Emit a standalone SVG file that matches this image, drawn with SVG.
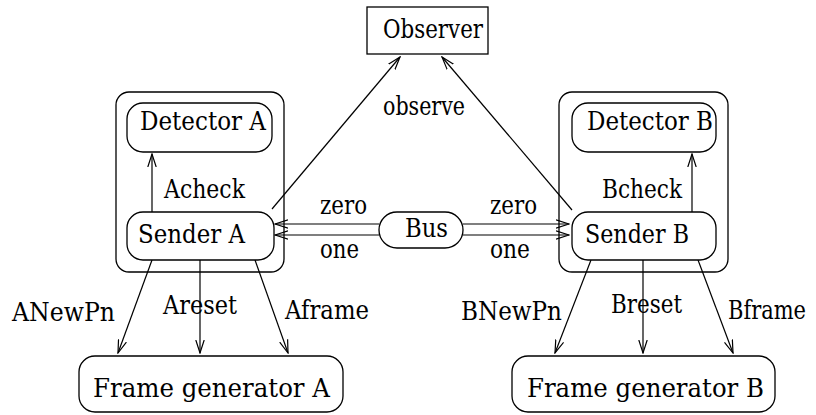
<svg xmlns="http://www.w3.org/2000/svg" width="816" height="415" viewBox="0 0 816 415">
<style>
.box{fill:#fff;stroke:#000;stroke-width:1.3}
.frame{fill:none;stroke:#000;stroke-width:1.3}
.ln{fill:none;stroke:#000;stroke-width:1.2;marker-end:url(#ah)}
.t{font-size:26px;fill:#000}
</style>
<defs>
<marker id="ah" viewBox="-13 -5 14 10" refX="0" refY="0" markerWidth="14" markerHeight="10" orient="auto" markerUnits="userSpaceOnUse">
<path d="M-13,-4.2 L0,0 L-13,4.2" fill="none" stroke="#000" stroke-width="1.2"/>
</marker>
</defs>
<g id="groupA"><rect class="frame" x="116" y="92" width="168" height="180" rx="13"/></g>
<g id="groupB"><rect class="frame" x="559" y="92" width="169" height="180" rx="13"/></g>
<g id="connectors" font-family="DejaVu Serif, serif">
<path class="ln" d="M272,209 L400,57"/>
<path class="ln" d="M572,210 L442,57"/>
<path class="ln" d="M152,212 L152,154"/>
<path class="ln" d="M692,212 L692,154"/>
<path class="ln" d="M379,224 L275,224"/>
<path class="ln" d="M379,235 L275,235"/>
<path class="ln" d="M463,224 L569,224"/>
<path class="ln" d="M463,235 L569,235"/>
<path class="ln" d="M152,260 L118,353"/>
<path class="ln" d="M200,260 L200,353"/>
<path class="ln" d="M255,260 L288,353"/>
<path class="ln" d="M591,260 L555,353"/>
<path class="ln" d="M643,260 L643,353"/>
<path class="ln" d="M698,260 L733,353"/>
<text class="t" x="383" y="115" textLength="82" lengthAdjust="spacingAndGlyphs">observe</text>
<text class="t" x="164" y="198" textLength="81" lengthAdjust="spacingAndGlyphs">Acheck</text>
<text class="t" x="602" y="198" textLength="80" lengthAdjust="spacingAndGlyphs">Bcheck</text>
<text class="t" x="320" y="214" textLength="47" lengthAdjust="spacingAndGlyphs">zero</text>
<text class="t" x="320" y="258" textLength="39" lengthAdjust="spacingAndGlyphs">one</text>
<text class="t" x="490" y="214" textLength="47" lengthAdjust="spacingAndGlyphs">zero</text>
<text class="t" x="490" y="258" textLength="40" lengthAdjust="spacingAndGlyphs">one</text>
<text class="t" x="12" y="321" textLength="103" lengthAdjust="spacingAndGlyphs">ANewPn</text>
<text class="t" x="163" y="314" textLength="74" lengthAdjust="spacingAndGlyphs">Areset</text>
<text class="t" x="285" y="319" textLength="84" lengthAdjust="spacingAndGlyphs">Aframe</text>
<text class="t" x="461" y="320" textLength="101" lengthAdjust="spacingAndGlyphs">BNewPn</text>
<text class="t" x="611" y="313" textLength="71" lengthAdjust="spacingAndGlyphs">Breset</text>
<text class="t" x="728" y="319" textLength="78" lengthAdjust="spacingAndGlyphs">Bframe</text>
</g>
<g font-family="DejaVu Serif, serif">
<g id="observer"><rect class="box" x="367" y="7" width="121" height="47"/><text class="t" x="383" y="38" textLength="100" lengthAdjust="spacingAndGlyphs">Observer</text></g>
<g id="detectorA"><rect class="box" x="127" y="103" width="145" height="49" rx="16"/><text class="t" x="140" y="130" textLength="126" lengthAdjust="spacingAndGlyphs">Detector A</text></g>
<g id="senderA"><rect class="box" x="127" y="212" width="147" height="48" rx="16"/><text class="t" x="138" y="243" textLength="107" lengthAdjust="spacingAndGlyphs">Sender A</text></g>
<g id="detectorB"><rect class="box" x="572" y="103" width="144" height="49" rx="16"/><text class="t" x="587" y="130" textLength="126" lengthAdjust="spacingAndGlyphs">Detector B</text></g>
<g id="senderB"><rect class="box" x="572" y="212" width="144" height="48" rx="16"/><text class="t" x="585" y="243" textLength="104" lengthAdjust="spacingAndGlyphs">Sender B</text></g>
<g id="bus"><rect class="box" x="379" y="212" width="84" height="36" rx="18"/><text class="t" x="405" y="237" textLength="43" lengthAdjust="spacingAndGlyphs">Bus</text></g>
<g id="frameGenA"><rect class="box" x="79" y="356" width="264" height="56" rx="16"/><text class="t" x="93" y="397" textLength="237" lengthAdjust="spacingAndGlyphs">Frame generator A</text></g>
<g id="frameGenB"><rect class="box" x="512" y="356" width="263" height="56" rx="16"/><text class="t" x="527" y="397" textLength="237" lengthAdjust="spacingAndGlyphs">Frame generator B</text></g>
</g>
</svg>
